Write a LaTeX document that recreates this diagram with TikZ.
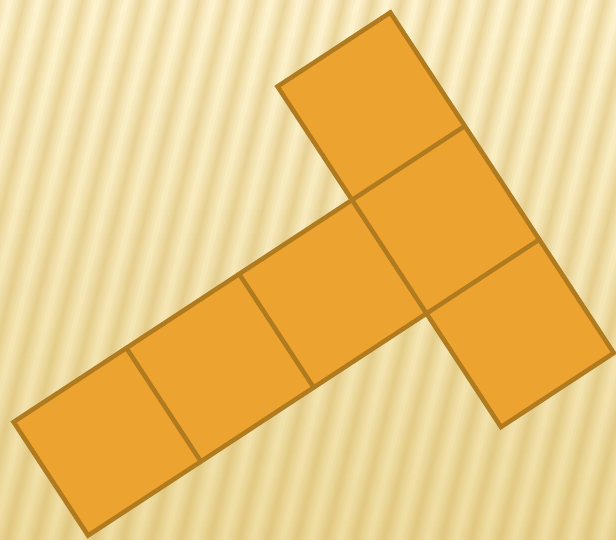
\documentclass[tikz,border=0pt]{standalone}
\definecolor{sqfill}{RGB}{237,163,47}
\definecolor{sqline}{RGB}{176,122,30}
\definecolor{bgtop}{RGB}{253,242,205}
\definecolor{bgmid}{RGB}{250,236,192}
\definecolor{bgbot}{RGB}{238,220,160}
\definecolor{stripecol}{RGB}{210,172,82}
\tikzset{
  stripeline/.style={stripecol, opacity=0.085},
  netface/.style={fill=sqfill, draw=sqline, line width=4.5pt, line join=miter},
  netedge/.style={draw=sqline, line width=4.5pt, line cap=round}
}
\begin{document}
\begin{tikzpicture}[x=1pt,y=1pt]
\useasboundingbox (0,0) rectangle (616,539);
\shade[top color=bgtop, middle color=bgmid, bottom color=bgbot] (0,0) rectangle (616,539);
\begin{scope}
  \clip (0,0) rectangle (616,539);
  \foreach \x in {-168,-139,...,650} {
    \foreach \w in {22,16,11,7,3} {
      \draw[stripeline, line width=\w pt] (\x,-5) -- ++(136,549);
    }
  }
\end{scope}
\begin{scope}[shift={(0,539)}, yscale=-1]
  \foreach \i in {0,...,4} {
    \foreach \j in {0,...,3} {
      \coordinate (p\i\j) at ({352+(\i-3)*112.8+(\j-1)*74.5},{200-(\i-3)*74+(\j-1)*113.5});
    }
  }
  \path[netface] (p01) -- (p31) -- (p30) -- (p40) -- (p43) -- (p33) -- (p32) -- (p02) -- cycle;
  \draw[netedge] (p11) -- (p12);
  \draw[netedge] (p21) -- (p22);
  \draw[netedge] (p31) -- (p32);
  \draw[netedge] (p31) -- (p41);
  \draw[netedge] (p32) -- (p42);
\end{scope}
\end{tikzpicture}
\end{document}
